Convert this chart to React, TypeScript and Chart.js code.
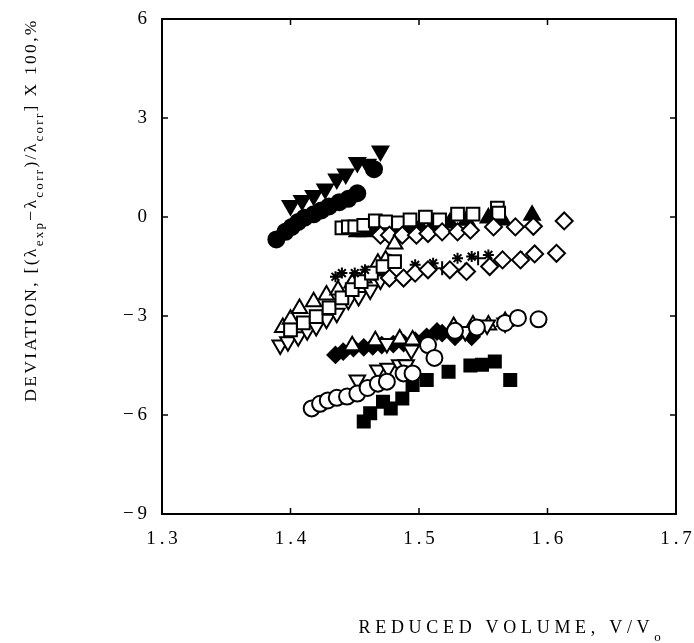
import React, { useEffect, useRef } from "react";
import { Chart, registerables } from "chart.js";
Chart.register(...registerables);

// ---- axis ticks ----
const xTickValues = [1.3, 1.4, 1.5, 1.6, 1.7];
const yTickValues = [-9, -6, -3, 0, 3, 6];

// ---- series (reduced volume, deviation %) ----
const filledCircles = [
  [1.389, -0.68], [1.396, -0.45], [1.401, -0.3], [1.406, -0.15], [1.411, -0.02],
  [1.418, 0.08], [1.424, 0.2], [1.430, 0.32], [1.438, 0.45], [1.445, 0.55],
  [1.452, 0.72], [1.465, 1.45],
];
const filledDownTriangles = [
  [1.400, 0.35], [1.409, 0.5], [1.418, 0.65], [1.427, 0.85], [1.436, 1.15],
  [1.443, 1.3], [1.452, 1.65], [1.460, 1.6], [1.470, 2.0],
];
const openSquaresTop = [
  [1.440, -0.33], [1.445, -0.3], [1.450, -0.3], [1.457, -0.25], [1.466, -0.12],
  [1.474, -0.15], [1.484, -0.18], [1.493, -0.09], [1.505, 0.0], [1.516, -0.09],
  [1.530, 0.09], [1.542, 0.09], [1.561, 0.27], [1.562, 0.12],
];
const filledUpTriangles = [
  [1.452, -0.45], [1.458, -0.45], [1.464, -0.35], [1.472, -0.35], [1.480, -0.35],
  [1.488, -0.3], [1.495, -0.3], [1.501, -0.3], [1.511, -0.3], [1.524, -0.18],
  [1.537, -0.1], [1.554, -0.03], [1.565, -0.09], [1.588, 0.05],
];
const openDiamondsTop = [
  [1.470, -0.55], [1.477, -0.55], [1.487, -0.55], [1.498, -0.55], [1.507, -0.5],
  [1.518, -0.45], [1.530, -0.45], [1.540, -0.4], [1.558, -0.3], [1.575, -0.3],
  [1.589, -0.28], [1.613, -0.12],
];
const openUpTrianglesMid = [
  [1.394, -3.35], [1.400, -3.1], [1.407, -2.77], [1.418, -2.57], [1.428, -2.36],
  [1.437, -2.21], [1.448, -2.0], [1.457, -1.85], [1.468, -1.4], [1.474, -1.3],
  [1.481, -0.82],
];
const openDownTrianglesMid = [
  [1.392, -3.88], [1.398, -3.78], [1.406, -3.63], [1.413, -3.45], [1.420, -3.32],
  [1.428, -3.1], [1.436, -2.92], [1.445, -2.52], [1.453, -2.41], [1.462, -2.21],
  [1.470, -1.91],
];
const openSquaresMid = [
  [1.400, -3.42], [1.410, -3.21], [1.420, -3.02], [1.430, -2.75], [1.440, -2.45],
  [1.448, -2.2], [1.455, -1.96], [1.463, -1.7], [1.472, -1.5], [1.481, -1.35],
];
const filledCirclesMid = [
  [1.466, -1.7], [1.472, -1.5], [1.476, -1.35],
];
const asterisks = [
  [1.435, -1.81], [1.440, -1.7], [1.450, -1.7], [1.458, -1.6], [1.497, -1.45],
  [1.511, -1.4], [1.530, -1.25], [1.541, -1.2], [1.554, -1.15],
];
const plusSigns = [
  [1.518, -1.55], [1.536, -1.6], [1.546, -1.25], [1.565, -1.3], [1.580, -1.25],
];
const openDiamondsMid = [
  [1.477, -1.85], [1.488, -1.85], [1.497, -1.7], [1.507, -1.6], [1.524, -1.6],
  [1.537, -1.65], [1.555, -1.5], [1.565, -1.3], [1.579, -1.3], [1.590, -1.12],
  [1.607, -1.1],
];
const filledDiamonds = [
  [1.435, -4.18], [1.441, -4.08], [1.449, -3.97], [1.457, -3.95], [1.464, -3.92],
  [1.471, -3.88], [1.480, -3.85], [1.488, -3.82], [1.497, -3.75], [1.506, -3.63],
  [1.514, -3.47], [1.518, -3.52], [1.528, -3.63], [1.541, -3.63],
];
const openUpTrianglesLow = [
  [1.448, -3.9], [1.466, -3.75], [1.485, -3.7], [1.495, -3.73], [1.527, -3.32],
  [1.542, -3.27], [1.554, -3.27], [1.567, -3.17],
];
const openDownTrianglesLow = [
  [1.475, -3.83], [1.494, -4.03], [1.536, -3.47], [1.553, -3.27], [1.567, -3.21],
  [1.452, -4.94], [1.468, -4.64], [1.476, -4.58], [1.485, -4.48], [1.490, -4.48],
];
const openCircles = [
  [1.4165, -5.80], [1.423, -5.66], [1.429, -5.56], [1.436, -5.48], [1.444, -5.44],
  [1.452, -5.35], [1.460, -5.18], [1.468, -5.05], [1.475, -4.99], [1.488, -4.74],
  [1.495, -4.74], [1.507, -3.88], [1.512, -4.27], [1.528, -3.45], [1.545, -3.35],
  [1.567, -3.21], [1.577, -3.06], [1.593, -3.1],
];
const filledSquares = [
  [1.457, -6.2], [1.462, -5.95], [1.472, -5.6], [1.478, -5.8], [1.487, -5.5],
  [1.495, -5.09], [1.506, -4.94], [1.523, -4.69], [1.540, -4.5], [1.549, -4.48],
  [1.559, -4.38], [1.571, -4.94],
];

const toXY = (arr: number[][]) => arr.map(([x, y]) => ({ x, y }));

type Seg = { t: string; sub?: boolean };
const yTitle: Seg[] = [
  { t: "DEVIATION, [(λ" }, { t: "exp", sub: true }, { t: "−λ" }, { t: "corr", sub: true },
  { t: ")/λ" }, { t: "corr", sub: true }, { t: "] X 100,%" },
];
const xTitle: Seg[] = [{ t: "REDUCED VOLUME, V/V" }, { t: "o", sub: true }];

const FONT = '"Liberation Serif", "DejaVu Serif", serif';

function drawRich(ctx: CanvasRenderingContext2D, segs: Seg[], cx: number, baseline: number, size: number, spacing: number) {
  const subSize = Math.round(size * 0.72);
  const widths: number[] = [];
  let total = 0;
  (ctx as any).letterSpacing = spacing + "px";
  for (const s of segs) {
    ctx.font = `${s.sub ? subSize : size}px ${FONT}`;
    const w = ctx.measureText(s.t).width;
    widths.push(w);
    total += w;
  }
  let x = cx - total / 2;
  ctx.textAlign = "left";
  ctx.textBaseline = "alphabetic";
  segs.forEach((s, i) => {
    ctx.font = `${s.sub ? subSize : size}px ${FONT}`;
    ctx.fillText(s.t, x, baseline + (s.sub ? size * 0.42 : 0));
    x += widths[i];
  });
}

const framePlugin = {
  id: "frameTicks",
  afterDraw(chart: any) {
    const { ctx, chartArea } = chart;
    const { left, right, top, bottom } = chartArea;
    const xs = chart.scales.x;
    const ys = chart.scales.y;
    ctx.save();
    ctx.strokeStyle = "#000";
    ctx.lineWidth = 2;
    ctx.strokeRect(left, top, right - left, bottom - top);
    ctx.lineWidth = 1.5;
    const line = (a: number, b: number, c: number, d: number) => {
      ctx.beginPath(); ctx.moveTo(a, b); ctx.lineTo(c, d); ctx.stroke();
    };
    xTickValues.slice(1, -1).forEach((v) => {
      const px = xs.getPixelForValue(v);
      line(px, bottom, px, bottom - 6);
      line(px, top, px, top + 6);
    });
    yTickValues.slice(1, -1).forEach((v) => {
      const py = ys.getPixelForValue(v);
      line(left, py, left + 6, py);
      line(right, py, right - 6, py);
    });
    ctx.fillStyle = "#000";
    // x title
    drawRich(ctx, xTitle, 512, 633, 18, 4.7);
    // y title (rotated)
    ctx.save();
    ctx.translate(36, 210);
    ctx.rotate(-Math.PI / 2);
    drawRich(ctx, yTitle, 0, 0, 17.5, 2.3);
    ctx.restore();
    ctx.restore();
  },
};

export default function App() {
  const ref = useRef<HTMLCanvasElement | null>(null);
  useEffect(() => {
    if (!ref.current) return;
    const mk = (data: number[][], style: string, filled: boolean, radius: number, rotation = 0) => ({
      data: toXY(data),
      pointStyle: style,
      pointRadius: radius,
      pointRotation: rotation,
      pointBackgroundColor: filled ? "#000" : "#fff",
      pointBorderColor: "#000",
      pointBorderWidth: 2,
      showLine: false,
    });
    const chart = new Chart(ref.current, {
      type: "scatter",
      data: {
        datasets: [
          mk(openCircles, "circle", false, 8),
          mk(filledSquares, "rect", true, 8.5),
          mk(openDownTrianglesLow, "triangle", false, 9, 180),
          mk(openUpTrianglesLow, "triangle", false, 9),
          mk(filledDiamonds, "rectRot", true, 8),
          mk(openDiamondsMid, "rectRot", false, 8.5),
          mk(plusSigns, "cross", false, 7),
          mk(asterisks, "star", false, 5.5),
          mk(openSquaresMid, "rect", false, 9),
          mk(openDownTrianglesMid, "triangle", false, 9, 180),
          mk(openUpTrianglesMid, "triangle", false, 9),
          mk(filledCirclesMid, "circle", true, 7),
          mk(openDiamondsTop, "rectRot", false, 8.5),
          mk(openSquaresTop, "rect", false, 9),
          mk(filledUpTriangles, "triangle", true, 9),
          mk(filledDownTriangles, "triangle", true, 9, 180),
          mk(filledCircles, "circle", true, 8),
        ] as any,
      },
      options: {
        animation: false,
        responsive: false,
        devicePixelRatio: 1,
        layout: { padding: { top: 19, right: 18, left: 0, bottom: 0 } },
        plugins: { legend: { display: false }, tooltip: { enabled: false } },
        scales: {
          x: {
            type: "linear",
            min: 1.3,
            max: 1.7,
            afterFit: (s: any) => { s.height = 129; s.paddingLeft = 0; s.paddingRight = 0; },
            afterBuildTicks: (s: any) => { s.ticks = xTickValues.map((v) => ({ value: v })); },
            grid: { display: false, drawTicks: false },
            border: { display: false },
            ticks: {
              padding: 14,
              color: "#000",
              font: { family: FONT, size: 19 },
              callback: (v: any) => Number(v).toFixed(1).replace(".", "\u2009.\u2009"),
            },
          },
          y: {
            type: "linear",
            min: -9,
            max: 6,
            afterFit: (s: any) => { s.width = 162; s.paddingTop = 0; s.paddingBottom = 0; },
            afterBuildTicks: (s: any) => { s.ticks = yTickValues.map((v) => ({ value: v })); },
            grid: { display: false, drawTicks: false },
            border: { display: false },
            ticks: {
              padding: 15,
              color: "#000",
              font: { family: FONT, size: 19 },
              callback: (v: any) => (Number(v) < 0 ? "\u2212\u2009" + Math.abs(Number(v)) : String(v)),
            },
          },
        },
      },
      plugins: [framePlugin],
    });
    return () => chart.destroy();
  }, []);
  return (
    <div style={{ position: "absolute", left: 0, top: 0, width: 694, height: 643, background: "#fff" }}>
      <canvas ref={ref} width={694} height={643} style={{ width: 694, height: 643 }} />
    </div>
  );
}
